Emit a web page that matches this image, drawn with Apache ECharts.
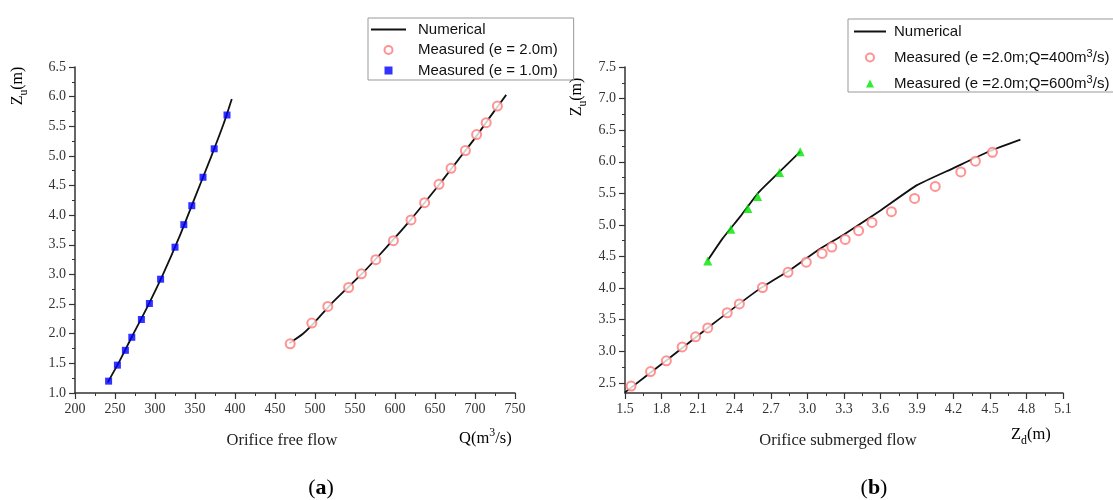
<!DOCTYPE html>
<html>
<head>
<meta charset="utf-8">
<script src="https://cdn.jsdelivr.net/npm/echarts@6/dist/echarts.min.js"></script>
<style>
html, body { margin: 0; padding: 0; background: #fff; }
#chart { width: 1113px; height: 500px; }
</style>
</head>
<body>
<div id="chart"></div>
<script>
// ---- (a) orifice free flow : Q (m3/s) vs Zu (m)
const freeNumE2 = [[468,1.84],[485,2.0],[500,2.2],[520,2.5],[545,2.83],[560,3.03],[580,3.32],[600,3.62],[620,3.93],[640,4.26],[660,4.6],[680,4.95],[700,5.3],[720,5.68],[739,6.03]]
const freeMeasE2 = [[469,1.83],[496,2.18],[516,2.46],[542,2.78],[558,3.01],[576,3.25],[598,3.57],[620,3.92],[637,4.21],[655,4.52],[670,4.79],[688,5.09],[702,5.36],[714,5.56],[728,5.84]]
const freeNumE1 = [[241,1.18],[255,1.52],[270,1.92],[290,2.44],[310,3.0],[330,3.62],[350,4.3],[370,4.98],[386,5.55],[396,5.96]]
const freeMeasE1 = [[242,1.2],[253,1.47],[263,1.72],[271,1.94],[283,2.24],[293,2.51],[307,2.92],[325,3.46],[336,3.84],[346,4.16],[360,4.64],[374,5.12],[390,5.69]]

// ---- (b) orifice submerged flow : Zd (m) vs Zu (m)
const subNumQ400 = [[1.5,2.35],[1.85,2.87],[2.2,3.4],[2.6,3.98],[2.85,4.28],[3.1,4.62],[3.3,4.85],[3.6,5.23],[3.9,5.63],[4.2,5.9],[4.5,6.17],[4.75,6.35]]
const subMeasQ400 = [[1.55,2.45],[1.71,2.68],[1.84,2.85],[1.97,3.07],[2.08,3.23],[2.18,3.37],[2.34,3.61],[2.44,3.75],[2.63,4.01],[2.84,4.25],[2.99,4.41],[3.12,4.55],[3.2,4.65],[3.31,4.77],[3.42,4.91],[3.53,5.04],[3.69,5.21],[3.88,5.42],[4.05,5.61],[4.26,5.84],[4.38,6.01],[4.52,6.15]]
const subNumQ600 = [[2.18,4.44],[2.3,4.78],[2.45,5.14],[2.6,5.52],[2.78,5.86],[2.94,6.16]]
const subMeasQ600 = [[2.18,4.43],[2.37,4.93],[2.51,5.26],[2.59,5.45],[2.77,5.83],[2.94,6.16]]

// right chart y axis starts below 2.5, so ticks are listed
const subZuTicks = [2.5,3.0,3.5,4.0,4.5,5.0,5.5,6.0,6.5,7.0,7.5]
const subZuMinorTicks = [2.75,3.25,3.75,4.25,4.75,5.25,5.75,6.25,6.75,7.25]

const legendLeft = ['Numerical','Measured (e = 2.0m)','Measured (e = 1.0m)']
const legendRight = ['Numerical','Measured (e =2.0m;Q=400m3/s)','Measured (e =2.0m;Q=600m3/s)']

const serif = "'Liberation Serif', 'Times New Roman', serif"
const sans = "'Liberation Sans', Arial, sans-serif"
const axisColor = '#333'
const redC = '#ff7777', blueC = '#0000ff', greenC = '#00e600'
const squareIcon = 'path://M0,0L10,0L10,10L0,10Z'
const triangleIcon = 'path://M5,0L10,10L0,10Z'

const chart = echarts.init(document.getElementById('chart'))

function valueAxis(gridIndex, min, max, interval, digits, extra) {
  return Object.assign({
    type: 'value',
    gridIndex,
    min, max, interval,
    axisLine: {show: true, onZero: false, lineStyle: {color: axisColor, width: 1.5}},
    axisTick: {show: true, length: 6, lineStyle: {color: axisColor, width: 1.2}},
    minorTick: {show: true, splitNumber: 2, length: 3, lineStyle: {color: axisColor, width: 1}},
    splitLine: {show: false},
    axisLabel: {
      color: '#333', fontFamily: serif, fontSize: 14, margin: 9,
      formatter: v => v.toFixed(digits)
    }
  }, extra || {})
}

const lineStyle = {color: '#111', width: 1.8}

function richLabel(size) {
  return {
    n: {fontFamily: serif, fontSize: size, color: '#222', lineHeight: 24, verticalAlign: 'middle'},
    s: {fontFamily: serif, fontSize: size * 0.72, color: '#222', lineHeight: 24, verticalAlign: 'bottom'},
    p: {fontFamily: serif, fontSize: size * 0.72, color: '#222', lineHeight: 24, verticalAlign: 'top'}
  }
}

function legendItems(names, icons) {
  return names.map((name, i) => {
    if (i === 0) return {name, itemStyle: {opacity: 0}}
    return icons[i] ? {name, icon: icons[i]} : {name}
  })
}

const option = {
  animation: false,
  backgroundColor: '#fff',
  grid: [
    {left: 75, top: 67, right: 598, bottom: 107},
    {left: 625, top: 67, right: 50, bottom: 107}
  ],
  xAxis: [
    valueAxis(0, 200, 750, 50, 0),
    valueAxis(1, 1.5, 5.1, 0.3, 1)
  ],
  yAxis: [
    valueAxis(0, 1.0, 6.5, 0.5, 1),
    valueAxis(1, 2.34, 7.5, null, 1, {
      position: 'left',
      axisTick: {show: true, length: 6, customValues: subZuTicks, lineStyle: {color: axisColor, width: 1.2}},
      minorTick: {show: false},
      axisLabel: {color: '#333', fontFamily: serif, fontSize: 14, margin: 9, customValues: subZuTicks, formatter: v => v.toFixed(1)}
    }),
    // minor ticks for the right y axis
    valueAxis(1, 2.34, 7.5, null, 1, {
      position: 'left',
      offset: 0,
      axisLine: {show: false},
      axisTick: {show: true, length: 3, customValues: subZuMinorTicks, lineStyle: {color: axisColor, width: 1}},
      minorTick: {show: false},
      axisLabel: {show: false}
    })
  ],
  legend: [{
    orient: 'vertical',
    left: 368, top: 18,
    data: legendItems(legendLeft, [null, null, squareIcon]),
    itemWidth: 35, itemHeight: 8, itemGap: 5.5,
    padding: [4, 16, 2, 2],
    borderColor: '#999', borderWidth: 1,
    selectedMode: false,
    textStyle: {fontFamily: sans, fontSize: 15, color: '#111', padding: [0, 0, 0, 7]}
  }, {
    orient: 'vertical',
    left: 848, top: 19,
    data: legendItems(legendRight, [null, null, triangleIcon]),
    itemWidth: 32, itemHeight: 8, itemGap: 9.5,
    padding: [5, 30, 1, 5],
    borderColor: '#999', borderWidth: 1,
    selectedMode: false,
    formatter: name => name.replace('m3/s', 'm{sup|3}/s'),
    textStyle: {
      fontFamily: sans, fontSize: 15, color: '#111', padding: [0, 0, 0, 3],
      rich: {sup: {fontFamily: sans, fontSize: 11, color: '#111', verticalAlign: 'top', lineHeight: 18}}
    }
  }],
  series: [
    {name: 'Numerical', type: 'line', xAxisIndex: 0, yAxisIndex: 0, data: freeNumE2, symbol: 'none', smooth: 0.2, lineStyle, z: 2},
    {name: 'Numerical', type: 'line', xAxisIndex: 0, yAxisIndex: 0, data: freeNumE1, symbol: 'none', smooth: 0.2, lineStyle, z: 2},
    {name: 'Measured (e = 2.0m)', type: 'scatter', xAxisIndex: 0, yAxisIndex: 0, data: freeMeasE2,
      symbol: 'emptyCircle', symbolSize: 9, itemStyle: {color: redC, borderWidth: 1.4}, z: 3},
    {name: 'Measured (e = 1.0m)', type: 'scatter', xAxisIndex: 0, yAxisIndex: 0, data: freeMeasE1,
      symbol: 'rect', symbolSize: 7, itemStyle: {color: blueC}, z: 3},
    {name: 'Numerical', type: 'line', xAxisIndex: 1, yAxisIndex: 1, data: subNumQ400, symbol: 'none', smooth: 0.15, lineStyle, z: 2},
    {name: 'Numerical', type: 'line', xAxisIndex: 1, yAxisIndex: 1, data: subNumQ600, symbol: 'none', smooth: 0.15, lineStyle, z: 2},
    {name: 'Measured (e =2.0m;Q=400m3/s)', type: 'scatter', xAxisIndex: 1, yAxisIndex: 1, data: subMeasQ400,
      symbol: 'emptyCircle', symbolSize: 9, itemStyle: {color: redC, borderWidth: 1.4}, z: 3},
    {name: 'Measured (e =2.0m;Q=600m3/s)', type: 'scatter', xAxisIndex: 1, yAxisIndex: 1, data: subMeasQ600,
      symbol: 'triangle', symbolSize: 9, itemStyle: {color: greenC}, z: 3}
  ],
  graphic: [
    {type: 'text', x: 18, y: 86, rotation: Math.PI / 2,
      style: {text: '{n|Z}{s|u}{n|(m)}', rich: richLabel(16), align: 'center', verticalAlign: 'middle'}},
    {type: 'text', x: 282, y: 441,
      style: {text: 'Orifice free flow', fontFamily: serif, fontSize: 16.5, fill: '#222', align: 'center', verticalAlign: 'middle'}},
    {type: 'text', x: 459, y: 439,
      style: {text: '{n|Q(m}{p|3}{n|/s)}', rich: richLabel(16.5), align: 'left', verticalAlign: 'middle'}},
    {type: 'text', x: 577, y: 97, rotation: Math.PI / 2,
      style: {text: '{n|Z}{s|u}{n|(m)}', rich: richLabel(16), align: 'center', verticalAlign: 'middle'}},
    {type: 'text', x: 838, y: 441,
      style: {text: 'Orifice submerged flow', fontFamily: serif, fontSize: 16.5, fill: '#222', align: 'center', verticalAlign: 'middle'}},
    {type: 'text', x: 1011, y: 435,
      style: {text: '{n|Z}{s|d}{n|(m)}', rich: richLabel(16.5), align: 'left', verticalAlign: 'middle'}},
    {type: 'text', x: 321, y: 488,
      style: {text: '{n|(}{b|a}{n|)}', align: 'center', verticalAlign: 'middle',
        rich: {n: {fontFamily: serif, fontSize: 22, color: '#000'}, b: {fontFamily: serif, fontSize: 22, fontWeight: 'bold', color: '#000'}}}},
    {type: 'text', x: 874, y: 488,
      style: {text: '{n|(}{b|b}{n|)}', align: 'center', verticalAlign: 'middle',
        rich: {n: {fontFamily: serif, fontSize: 22, color: '#000'}, b: {fontFamily: serif, fontSize: 22, fontWeight: 'bold', color: '#000'}}}}
  ]
}

chart.setOption(option)
</script>
</body>
</html>
